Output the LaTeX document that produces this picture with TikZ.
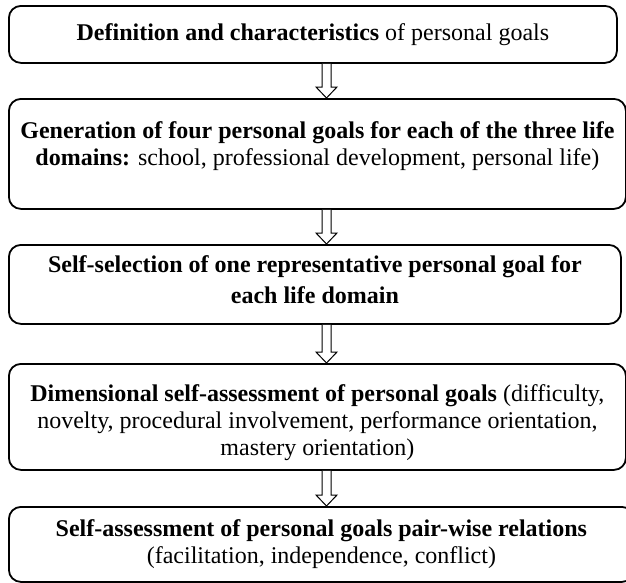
\documentclass[tikz,border=0pt]{standalone}
\usepackage{fontspec}
\setmainfont{Liberation Serif}
\usetikzlibrary{calc}
\begin{document}
\begin{tikzpicture}[x=1pt,y=-1pt,
    caja/.style={draw,line width=1.8pt,rounded corners=12pt,align=center,anchor=north west,inner sep=0pt,font=\fontsize{24}{27}\selectfont},
    flecha/.style={draw,line width=1pt,fill=white,line join=miter}]
        \useasboundingbox (0,0) rectangle (626,582);

        % Cajas
        \node[caja,minimum width=608pt,minimum height=57pt] (b1) at (8,5)
            {\textbf{Definition and characteristics} of personal goals};
        \node[caja,minimum width=617pt,minimum height=110pt] (b2) at (8,98)
            {\textbf{Generation of four personal goals for each of the three life}\\
             \textbf{domains:} school, professional development, personal life)\rule[-20pt]{0pt}{20pt}};
        \node[caja,minimum width=612pt,minimum height=79pt,font=\fontsize{24}{31}\selectfont] (b3) at (8,244)
            {\textbf{Self-selection of one representative personal goal for}\\
             \textbf{each life domain}\rule[-10pt]{0pt}{10pt}};
        \node[caja,minimum width=617pt,minimum height=106pt] (b4) at (8,363)
            {\rule{0pt}{28pt}\textbf{Dimensional self-assessment of personal goals} (difficulty,\\
             novelty, procedural involvement, performance orientation,\\
             mastery orientation)};
        \node[caja,minimum width=625pt,minimum height=75pt] (b5) at (8,506)
            {\textbf{Self-assessment of personal goals pair-wise relations}\\
             (facilitation, independence, conflict)};

        % Flechas huecas
        \coordinate (eje) at (326.5,0);
        \foreach \a/\b in {b1/b2,b2/b3,b3/b4,b4/b5}
            \draw[flecha] ($(\a.south -| eje)+(-4.5,0)$) -- ($(\b.north -| eje)+(-4.5,-11)$)
                -- ($(\b.north -| eje)+(-10.5,-11)$) -- (\b.north -| eje)
                -- ($(\b.north -| eje)+(10.5,-11)$) -- ($(\b.north -| eje)+(4.5,-11)$)
                -- ($(\a.south -| eje)+(4.5,0)$);
    \end{tikzpicture}
\end{document}
